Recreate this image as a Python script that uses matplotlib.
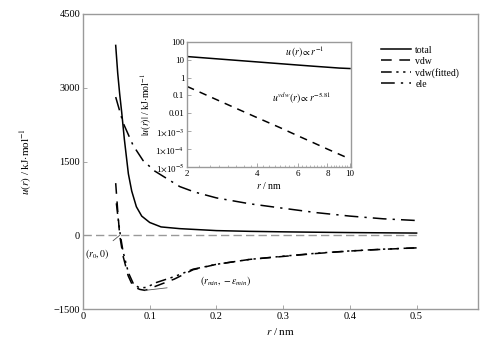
import matplotlib
matplotlib.use("Agg")
import matplotlib.pyplot as plt
from matplotlib.ticker import NullLocator, FixedLocator, FixedFormatter, NullFormatter

plt.rcParams['font.family'] = ['Liberation Serif', 'DejaVu Serif']
plt.rcParams['mathtext.fontset'] = 'stix'

# main panel data
r_total = [0.049, 0.052, 0.055, 0.058, 0.062, 0.068, 0.073, 0.08, 0.088, 0.1,
           0.117, 0.145, 0.2, 0.25, 0.3, 0.35, 0.4, 0.45, 0.5]
u_total = [3860, 3300, 2870, 2500, 1950, 1250, 900, 580, 390, 260,
           170, 135, 95, 80, 70, 62, 55, 50, 45]

r_vdw = [0.049, 0.052, 0.055, 0.06, 0.0676, 0.075, 0.085, 0.093, 0.11, 0.137,
         0.165, 0.2, 0.25, 0.3, 0.35, 0.4, 0.45, 0.5]
u_vdw = [1060, 500, 0, -420, -820, -1040, -1100, -1120, -1030, -890,
         -700, -590, -490, -430, -370, -320, -285, -256]

r_fit = [0.050, 0.053, 0.056, 0.06, 0.068, 0.076, 0.085, 0.095, 0.11, 0.137,
         0.165, 0.2, 0.25, 0.3, 0.35, 0.4, 0.45, 0.5]
u_fit = [650, 300, 0, -330, -760, -1000, -1070, -1060, -960, -840,
         -690, -590, -490, -425, -365, -318, -282, -255]

r_ele = [0.049, 0.06, 0.075, 0.09, 0.1075, 0.145, 0.167, 0.2, 0.25, 0.294,
         0.35, 0.4, 0.45, 0.5]
u_ele = [2810, 2290, 1830, 1520, 1306, 990, 880, 760, 640, 560,
         460, 390, 335, 300]

# inset data (log-log)
r_in = [2, 3, 4, 5, 6, 7, 8, 9, 10]
u_in_total = [15, 10, 7.5, 6, 5, 4.3, 3.8, 3.4, 3.2]
u_in_vdw = [0.32, 0.03, 0.0057, 0.0016, 5.4e-4, 2.2e-4, 1.0e-4, 5.1e-5, 2.8e-5]

frame = '#9a9a9a'

fig = plt.figure(figsize=(5, 3.4), dpi=100)
ax = fig.add_axes([0.166, 0.091, 0.790, 0.868])

ax.axhline(0, xmax=0.5 / 0.592, color='#999999', lw=1.0, ls=(0, (6, 3)))
ax.plot(r_total, u_total, color='black', lw=1.1, label='total')
ax.plot(r_vdw, u_vdw, color='black', lw=1.1, ls=(0, (7, 5)), label='vdw')
ax.plot(r_fit, u_fit, color='black', lw=1.1,
        ls=(0, (7, 3, 1.5, 3, 1.5, 3, 1.5, 3)), label='vdw(fitted)')
ax.plot(r_ele, u_ele, color='black', lw=1.1, ls=(0, (9, 4, 1.5, 4)), label='ele')

ax.set_xlim(0, 0.592)
ax.set_ylim(-1500, 4500)
ax.set_xticks([0, 0.1, 0.2, 0.3, 0.4, 0.5])
ax.set_xticklabels(['0', '0.1', '0.2', '0.3', '0.4', '0.5'])
ax.set_yticks([-1500, 0, 1500, 3000, 4500])
ax.set_yticklabels(['\u22121500', '0', '1500', '3000', '4500'])
ax.tick_params(direction='in', length=3, width=0.6, color=frame, labelsize=7.5, pad=2)
for s in ax.spines.values():
    s.set_color(frame)
    s.set_linewidth(1.0)
ax.set_xlabel(r'$r$ / nm', fontsize=8, labelpad=4)
ax.set_ylabel(r'$u(r)$ / kJ$\cdot$mol$^{-1}$', fontsize=8, labelpad=14)

ax.annotate(r'$(r_0,0)$', xy=(0.055, 0), xytext=(0.021, -380),
            fontsize=7, ha='center', va='center',
            arrowprops=dict(arrowstyle='-', color='#555555', lw=0.6, shrinkA=4, shrinkB=0))
ax.annotate(r'$(r_{min},-\varepsilon_{min})$', xy=(0.093, -1120), xytext=(0.214, -930),
            fontsize=7, ha='center', va='center',
            arrowprops=dict(arrowstyle='-', color='#555555', lw=0.6, shrinkA=22, shrinkB=0))

ax.legend(loc='upper left', bbox_to_anchor=(0.745, 0.905), frameon=False,
          fontsize=7, handlelength=3.1, handletextpad=0.4, labelspacing=0.2,
          borderaxespad=0)

# inset
ins = fig.add_axes([0.374, 0.509, 0.328, 0.368])
ins.plot(r_in, u_in_total, color='black', lw=1.1)
ins.plot(r_in, u_in_vdw, color='black', lw=1.1, ls=(0, (5, 4)))
ins.set_xscale('log')
ins.set_yscale('log')
ins.set_xlim(2, 10.1)
ins.set_ylim(1e-5, 100)
ins.xaxis.set_major_locator(FixedLocator([2, 4, 6, 8, 10]))
ins.xaxis.set_major_formatter(FixedFormatter(['2', '4', '6', '8', '10']))
ins.xaxis.set_minor_locator(FixedLocator([x / 4 for x in range(8, 41)]))
ins.xaxis.set_minor_formatter(NullFormatter())
ins.set_yticks([1e-5, 1e-4, 1e-3, 0.01, 0.1, 1, 10, 100])
ins.set_yticklabels([r'1$\times$10$^{-5}$', r'1$\times$10$^{-4}$', r'1$\times$10$^{-3}$',
                     '0.01', '0.1', '1', '10', '100'])
ins.yaxis.set_minor_locator(NullLocator())
ins.tick_params(which='both', direction='in', color=frame, labelsize=6.5, pad=2)
ins.tick_params(which='major', length=3, width=0.6)
ins.tick_params(which='minor', length=1.5, width=0.5)
for s in ins.spines.values():
    s.set_color(frame)
    s.set_linewidth(1.0)
ins.set_xlabel(r'$r$ / nm', fontsize=7, labelpad=2)
ins.set_ylabel(r'$|u(r)|$ / kJ$\cdot$mol$^{-1}$', fontsize=7, labelpad=1)
ins.text(0.72, 0.92, r'$u\,(r)\propto r^{-1}$', transform=ins.transAxes,
         fontsize=7, ha='center', va='center')
ins.text(0.70, 0.55, r'$u^{vdw}(r)\propto r^{-5.81}$', transform=ins.transAxes,
         fontsize=7, ha='center', va='center')

fig.savefig('out.png', dpi=100)
